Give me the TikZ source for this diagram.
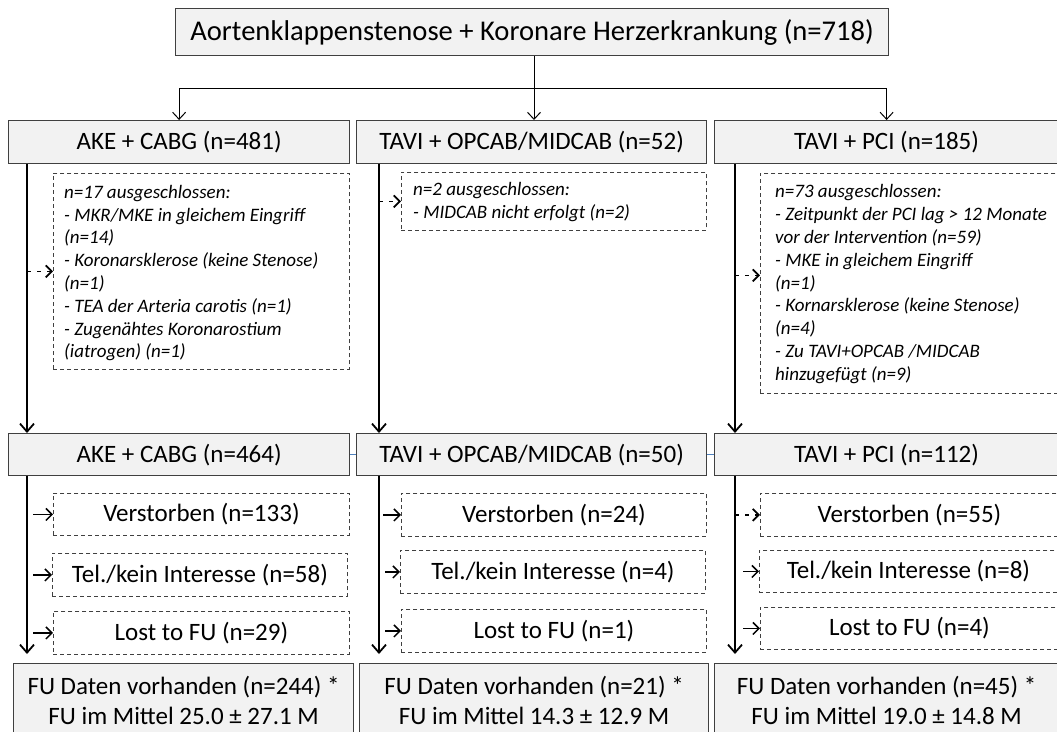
\documentclass[tikz,border=0pt]{standalone}
\usepackage{fontspec}
\setmainfont{Carlito}
\usetikzlibrary{arrows.meta}
\definecolor{boxfill}{HTML}{F2F2F2}
\definecolor{boxline}{HTML}{404040}
\definecolor{linkblue}{HTML}{4F81BD}
\begin{document}
\begin{tikzpicture}[x=1pt,y=-1pt,
  solidbox/.style={draw=boxline, line width=1.2pt, fill=boxfill, inner sep=0pt, anchor=north west, align=center, font=\fontsize{25}{30}\selectfont},
  dashbox/.style={draw=boxline, line width=0.9pt, dash pattern=on 4pt off 3pt, fill=white, inner sep=0pt, anchor=north west, align=center, font=\fontsize{25}{30}\selectfont},
  exbox/.style={draw=boxline, line width=0.9pt, dash pattern=on 4pt off 3pt, fill=white, inner sep=0pt, anchor=north west},
  extext/.style={inner sep=0pt, anchor=west, font=\fontsize{19}{22.8}\selectfont\itshape},
  thinarrow/.style={draw=black, line width=1pt, -{Straight Barb[length=7pt,width=13pt,line width=1pt]}},
  mainarrow/.style={draw=black, line width=2.2pt, -{Straight Barb[length=8pt,width=14pt,line width=1.8pt]}},
  smallarrow/.style={draw=black, line width=1.3pt, -{Straight Barb[length=6pt,width=12pt,line width=1.5pt]}},
  dasharrow/.style={smallarrow, line width=1.6pt, dash pattern=on 4pt off 6pt, -{Straight Barb[length=6pt,width=12pt,line width=1.8pt]}},
  bluelink/.style={draw=linkblue, line width=1.2pt}
]
\useasboundingbox (0,0) rectangle (1057,731);
\clip (0,0) rectangle (1057,731);

% top
\node[solidbox, minimum width=713pt, minimum height=47pt, font=\fontsize{28.6}{34}\selectfont] (top) at (175,8) {Aortenklappenstenose + Koronare Herzerkrankung (n=718)};

% row 1
\node[solidbox, minimum width=341pt, minimum height=43pt] (r1a) at (8,120) {AKE + CABG (n=481)};
\node[solidbox, minimum width=350pt, minimum height=43pt] (r1b) at (356,120) {TAVI + OPCAB/MIDCAB (n=52)};
\node[solidbox, minimum width=344pt, minimum height=43pt] (r1c) at (714,120) {TAVI + PCI (n=185)};

% exclusion boxes
\node[exbox, minimum width=296pt, minimum height=196pt] (e1) at (53,173) {};
\node[exbox, minimum width=305pt, minimum height=58pt] (e2) at (401,172) {};
\node[exbox, minimum width=300pt, minimum height=220pt] (e3) at (760,173) {};
\path (e1.west) ++(11,2) node[extext] (e1t) {\begin{tabular}{@{}l@{}}n=17 ausgeschlossen:\\- MKR/MKE in gleichem Eingriff\\(n=14)\\- Koronarsklerose (keine Stenose)\\(n=1)\\- TEA der Arteria carotis (n=1)\\- Zugenähtes Koronarostium\\(iatrogen) (n=1)\end{tabular}};
\path (e2.west) ++(12,1) node[extext] (e2t) {\begin{tabular}{@{}l@{}}n=2 ausgeschlossen:\\- MIDCAB nicht erfolgt (n=2)\end{tabular}};
\path (e3.west) ++(15,1) node[extext] (e3t) {\begin{tabular}{@{}l@{}}n=73 ausgeschlossen:\\- Zeitpunkt der PCI lag > 12 Monate\\vor der Intervention (n=59)\\- MKE in gleichem Eingriff\\(n=1)\\- Kornarsklerose (keine Stenose)\\(n=4)\\- Zu TAVI+OPCAB /MIDCAB\\hinzugefügt (n=9)\end{tabular}};

% row 2
\node[solidbox, minimum width=341pt, minimum height=42pt] (r2a) at (8,433) {AKE + CABG (n=464)};
\node[solidbox, minimum width=350pt, minimum height=42pt] (r2b) at (356,433) {TAVI + OPCAB/MIDCAB (n=50)};
\node[solidbox, minimum width=344pt, minimum height=42pt] (r2c) at (714,433) {TAVI + PCI (n=112)};

% loss boxes
\node[dashbox, minimum width=296pt, minimum height=42pt] (v1) at (53,493) {Verstorben (n=133)};
\node[dashbox, minimum width=295pt, minimum height=43pt] (t1) at (52,553) {Tel./kein Interesse (n=58)};
\node[dashbox, minimum width=296pt, minimum height=43pt] (lo1) at (53,611) {Lost to FU (n=29)};
\node[dashbox, minimum width=305pt, minimum height=43pt] (v2) at (401,493) {Verstorben (n=24)};
\node[dashbox, minimum width=305pt, minimum height=43pt] (t2) at (400,550) {Tel./kein Interesse (n=4)};
\node[dashbox, minimum width=305pt, minimum height=43pt] (lo2) at (401,609) {Lost to FU (n=1)};
\node[dashbox, minimum width=298pt, minimum height=43pt] (v3) at (760,493) {Verstorben (n=55)};
\node[dashbox, minimum width=298pt, minimum height=42pt] (t3) at (759,550) {Tel./kein Interesse (n=8)};
\node[dashbox, minimum width=298pt, minimum height=42pt] (lo3) at (760,607) {Lost to FU (n=4)};

% final boxes
\node[solidbox, minimum width=340pt, minimum height=74pt] (f1) at (13,663) {FU Daten vorhanden (n=244) *\\FU im Mittel 25.0 ± 27.1 M};
\node[solidbox, minimum width=349pt, minimum height=74pt] (f2) at (359,663) {FU Daten vorhanden (n=21) *\\FU im Mittel 14.3 ± 12.9 M};
\node[solidbox, minimum width=344pt, minimum height=74pt] (f3) at (714,663) {FU Daten vorhanden (n=45) *\\FU im Mittel 19.0 ± 14.8 M};

% blue links between row-2 boxes
\draw[bluelink] (r2a.east) -- (r2b.west);
\draw[bluelink] (r2b.east) -- (r2c.west);

% split from top
\coordinate (split) at (534,88);
\draw[line width=1pt] (top.south -| split) -- (split);
\draw[thinarrow] (split) -| (r1a.north);
\draw[thinarrow] (split) -| (r1c.north);
\draw[thinarrow] (split) -- (split |- r1b.north);

% column lines
\coordinate (l1) at (27,0);
\coordinate (l2) at (379,0);
\coordinate (l3) at (735,0);
\draw[mainarrow] (r1a.south -| l1) -- (r2a.north -| l1);
\draw[mainarrow] (r1b.south -| l2) -- (r2b.north -| l2);
\draw[mainarrow] (r1c.south -| l3) -- (r2c.north -| l3);
\draw[mainarrow, shorten >=9pt] (r2a.south -| l1) -- (f1.north -| l1);
\draw[mainarrow, shorten >=9pt] (r2b.south -| l2) -- (f2.north -| l2);
\draw[mainarrow, shorten >=9pt] (r2c.south -| l3) -- (f3.north -| l3);

% exclusion arrows
\path (e3.west) ++(0,-8) coordinate (a3);
\draw[dasharrow] (l1 |- e1.west) -- (e1.west);
\draw[dasharrow] (l2 |- e2.west) -- (e2.west);
\draw[dasharrow] (l3 |- a3) -- (a3);

% loss arrows
\draw[smallarrow, shorten <=6pt] (l1 |- v1.west) -- (v1.west);
\draw[smallarrow, shorten <=6pt] (l1 |- t1.west) -- (t1.west);
\draw[smallarrow, shorten <=6pt] (l1 |- lo1.west) -- (lo1.west);
\draw[smallarrow, shorten <=4pt] (l2 |- v2.west) -- (v2.west);
\draw[smallarrow, shorten <=6pt] (l2 |- t2.west) -- (t2.west);
\draw[smallarrow, shorten <=6pt] (l2 |- lo2.west) -- (lo2.west);
\draw[dasharrow] (l3 |- v3.west) -- (v3.west);
\draw[smallarrow, shorten <=8pt] (l3 |- t3.west) -- (t3.west);
\draw[smallarrow, shorten <=8pt] (l3 |- lo3.west) -- (lo3.west);
\end{tikzpicture}
\end{document}
